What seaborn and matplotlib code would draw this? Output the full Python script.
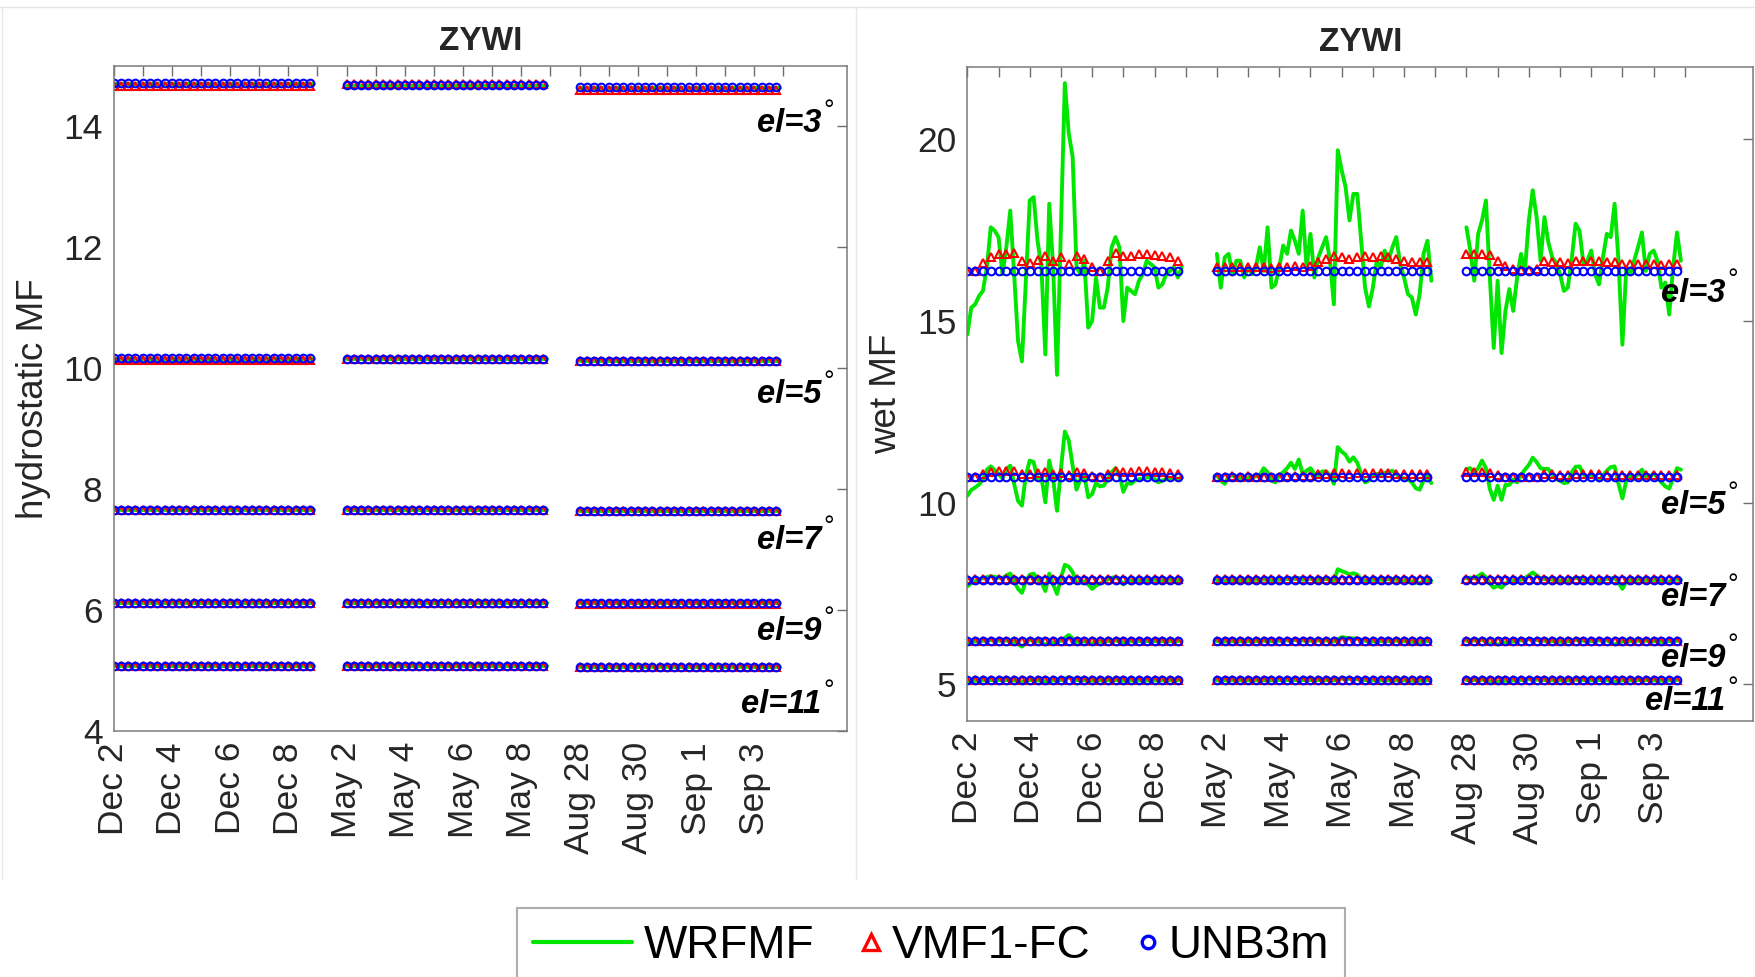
import numpy as np
import pandas as pd
import matplotlib
matplotlib.use("Agg")
import matplotlib.pyplot as plt
import matplotlib.transforms as mtransforms
from matplotlib.lines import Line2D
from matplotlib.legend_handler import HandlerLine2D
import seaborn as sns

# ---------------- data ----------------
# x axis = day index, the three campaigns are put one after another
campaigns = ["Dec", "May", "Aug"]
campaign_start = [0, 8, 16]          # Dec 2, May 2, Aug 28
tick_pos = [0, 2, 4, 6, 8, 10, 12, 14, 16, 18, 20, 22]
tick_labels = ["Dec 2", "Dec 4", "Dec 6", "Dec 8", "May 2", "May 4", "May 6",
               "May 8", "Aug 28", "Aug 30", "Sep 1", "Sep 3"]
elevations = [3, 5, 7, 9, 11]

# hydrostatic MF, level per campaign (Dec, May, Aug) for el = 3,5,7,9,11
hyd_wrf = [[14.70, 14.67, 14.63], [10.15, 10.15, 10.12], [7.65, 7.66, 7.64],
           [6.12, 6.12, 6.11], [5.07, 5.07, 5.06]]
hyd_vmf = [[14.67, 14.69, 14.60], [10.14, 10.15, 10.11], [7.65, 7.66, 7.63],
           [6.11, 6.12, 6.10], [5.07, 5.07, 5.06]]
hyd_unb = [[14.72, 14.68, 14.64], [10.16, 10.15, 10.12], [7.66, 7.66, 7.64],
           [6.12, 6.12, 6.11], [5.08, 5.07, 5.06]]

# wet MF, WRFMF 3-hourly (el 3,5,7), Dec + May + Aug
wrf_wet_el3 = [
    14.63, 15.37, 15.46, 15.69, 15.83, 16.48, 17.58, 17.49, 17.31, 16.29,
    17.03, 18.04, 16.29, 14.45, 13.89, 16.11, 18.32, 18.41, 17.21, 16.48,
    14.08, 18.23, 16.48, 13.52, 17.58, 21.55, 20.17, 19.52, 16.48, 16.29,
    16.66, 14.82, 15.00, 16.20, 15.37, 15.37, 15.92, 17.03, 17.31, 17.03,
    15.00, 15.92, 15.83, 15.74, 16.11, 16.29, 16.66, 16.57, 16.48, 15.92,
    16.01, 16.29, 16.38, 16.48, 16.20, 16.48,
    16.85, 15.92, 16.75, 16.85, 16.29, 16.66, 16.66, 16.20, 16.48, 16.29,
    16.48, 17.03, 16.38, 17.58, 15.92, 16.01, 16.48, 17.08, 16.85, 17.49,
    17.21, 16.85, 18.04, 16.48, 17.40, 16.20, 16.75, 17.03, 17.31, 16.66,
    15.46, 19.70, 19.15, 18.69, 17.77, 18.50, 18.50, 17.21, 15.92, 15.40,
    15.92, 16.66, 16.48, 16.94, 16.66, 17.03, 17.31, 16.57, 16.20, 15.74,
    15.65, 15.18, 15.74, 16.85, 17.21, 16.11,
    17.58, 16.94, 16.11, 17.40, 17.77, 18.32, 16.20, 14.26, 16.11, 14.12,
    15.28, 15.88, 15.28, 16.20, 16.85, 16.38, 17.77, 18.60, 17.86, 16.66,
    17.86, 17.17, 16.75, 16.61, 16.29, 15.83, 15.92, 16.71, 17.68, 17.49,
    16.57, 16.66, 16.94, 16.29, 16.01, 16.75, 17.40, 17.31, 18.23, 16.66,
    14.35, 16.48, 16.29, 16.66, 17.03, 17.44, 16.38, 16.85, 16.94, 16.66,
    15.92, 16.06, 15.18, 16.48, 17.44, 16.66]
wrf_wet_el5 = [
    10.19, 10.35, 10.42, 10.50, 10.65, 10.91, 11.00, 10.90, 10.79, 10.67,
    10.93, 11.02, 10.52, 10.05, 9.92, 10.75, 11.16, 11.12, 10.65, 10.70,
    10.01, 11.16, 10.65, 9.78, 10.93, 11.96, 11.72, 11.02, 10.36, 10.65,
    10.75, 10.15, 10.24, 10.54, 10.45, 10.47, 10.65, 10.84, 10.95, 10.79,
    10.30, 10.54, 10.52, 10.61, 10.65, 10.65, 10.70, 10.70, 10.65, 10.56,
    10.61, 10.65, 10.67, 10.70, 10.65, 10.70,
    10.75, 10.61, 10.52, 10.73, 10.75, 10.70, 10.67, 10.65, 10.69, 10.70,
    10.73, 10.76, 10.95, 10.84, 10.61, 10.56, 10.76, 10.84, 10.95, 11.10,
    10.93, 11.19, 10.79, 10.88, 10.95, 10.79, 10.75, 10.86, 10.86, 10.76,
    10.52, 11.53, 11.41, 11.32, 11.13, 11.25, 11.10, 10.79, 10.56, 10.61,
    10.76, 10.79, 10.79, 10.82, 10.84, 10.88, 10.79, 10.70, 10.67, 10.64,
    10.56, 10.40, 10.36, 10.61, 10.73, 10.54,
    10.93, 10.95, 10.82, 10.95, 11.16, 10.95, 10.38, 10.08, 10.47, 10.08,
    10.49, 10.49, 10.64, 10.56, 10.76, 10.91, 11.04, 11.24, 11.12, 10.95,
    10.93, 10.93, 10.76, 10.65, 10.61, 10.54, 10.56, 10.84, 10.99, 11.00,
    10.79, 10.67, 10.79, 10.73, 10.61, 10.75, 10.88, 10.98, 11.00, 10.52,
    10.12, 10.61, 10.73, 10.67, 10.79, 10.91, 10.73, 10.70, 10.82, 10.69,
    10.56, 10.45, 10.39, 10.67, 10.95, 10.91]
wrf_wet_el7 = [
    7.70, 7.78, 7.84, 7.89, 7.92, 7.95, 7.98, 7.96, 7.94, 7.92,
    8.00, 8.05, 7.84, 7.63, 7.52, 7.84, 8.02, 8.05, 7.89, 7.81,
    7.57, 8.05, 7.75, 7.49, 7.93, 8.29, 8.24, 8.09, 7.80, 7.80,
    7.84, 7.75, 7.63, 7.72, 7.78, 7.81, 7.89, 7.93, 7.96, 7.89,
    7.75, 7.84, 7.86, 7.87, 7.86, 7.88, 7.87, 7.87, 7.88, 7.86,
    7.87, 7.87, 7.88, 7.87, 7.87, 7.87,
    7.87, 7.86, 7.85, 7.87, 7.87, 7.87, 7.86, 7.87, 7.87, 7.87,
    7.88, 7.87, 7.89, 7.88, 7.86, 7.86, 7.88, 7.89, 7.90, 7.92,
    7.90, 7.93, 7.88, 7.90, 7.91, 7.88, 7.87, 7.90, 7.90, 7.88,
    7.85, 8.17, 8.12, 8.08, 8.03, 8.06, 8.02, 7.90, 7.85, 7.86,
    7.88, 7.88, 7.88, 7.89, 7.89, 7.90, 7.88, 7.87, 7.86, 7.85,
    7.84, 7.80, 7.78, 7.84, 7.87, 7.85,
    7.92, 7.94, 7.92, 7.98, 8.05, 7.95, 7.78, 7.66, 7.72, 7.66,
    7.78, 7.83, 7.86, 7.85, 7.88, 7.93, 8.00, 8.08, 8.00, 7.92,
    7.90, 7.90, 7.88, 7.86, 7.85, 7.84, 7.85, 7.90, 7.93, 7.93,
    7.88, 7.86, 7.88, 7.87, 7.85, 7.88, 7.90, 7.92, 7.93, 7.80,
    7.63, 7.84, 7.87, 7.86, 7.88, 7.90, 7.87, 7.87, 7.88, 7.87,
    7.85, 7.84, 7.83, 7.86, 7.89, 7.88]
# WRFMF 6-hourly (el 9, 11)
wrf_wet_el9 = [
    6.15, 6.18, 6.20, 6.22, 6.20, 6.21, 6.17, 6.04, 6.23, 6.19,
    6.10, 6.15, 6.20, 6.36, 6.17, 6.18, 6.13, 6.17, 6.19, 6.21,
    6.15, 6.19, 6.19, 6.19, 6.19, 6.19, 6.19, 6.19,
    6.19, 6.18, 6.19, 6.19, 6.19, 6.19, 6.20, 6.19, 6.20, 6.21,
    6.22, 6.21, 6.20, 6.21, 6.21, 6.18, 6.30, 6.27, 6.26, 6.20,
    6.18, 6.19, 6.19, 6.20, 6.19, 6.17, 6.16, 6.19,
    6.20, 6.21, 6.23, 6.12, 6.10, 6.15, 6.18, 6.21, 6.24, 6.22,
    6.20, 6.19, 6.17, 6.18, 6.22, 6.20, 6.19, 6.21, 6.21, 6.10,
    6.18, 6.19, 6.20, 6.20, 6.19, 6.17, 6.19, 6.20]
wrf_wet_el11 = [
    5.08, 5.10, 5.11, 5.12, 5.12, 5.12, 5.11, 5.06, 5.12, 5.11,
    5.08, 5.11, 5.12, 5.20, 5.12, 5.11, 5.10, 5.11, 5.11, 5.12,
    5.10, 5.11, 5.11, 5.11, 5.11, 5.11, 5.11, 5.11,
    5.11, 5.11, 5.11, 5.11, 5.11, 5.11, 5.11, 5.11, 5.12, 5.12,
    5.12, 5.12, 5.12, 5.12, 5.12, 5.11, 5.16, 5.15, 5.14, 5.12,
    5.11, 5.11, 5.11, 5.11, 5.11, 5.10, 5.10, 5.11,
    5.12, 5.12, 5.13, 5.08, 5.07, 5.10, 5.11, 5.12, 5.14, 5.13,
    5.12, 5.11, 5.11, 5.11, 5.13, 5.12, 5.11, 5.12, 5.12, 5.07,
    5.11, 5.11, 5.12, 5.12, 5.11, 5.10, 5.11, 5.12]

# VMF1-FC wet, 6-hourly
vmf_wet_el3 = [
    16.38, 16.38, 16.61, 16.75, 16.85, 16.85, 16.86, 16.66, 16.61, 16.68,
    16.80, 16.66, 16.75, 16.57, 16.80, 16.71, 16.48, 16.38, 16.66, 16.86,
    16.80, 16.80, 16.85, 16.85, 16.82, 16.80, 16.75, 16.66,
    16.48, 16.48, 16.50, 16.48, 16.50, 16.48, 16.48, 16.45, 16.48, 16.50,
    16.52, 16.50, 16.52, 16.62, 16.70, 16.78, 16.75, 16.72, 16.75, 16.78,
    16.76, 16.78, 16.75, 16.72, 16.65, 16.62, 16.62, 16.62,
    16.85, 16.85, 16.85, 16.82, 16.66, 16.52, 16.42, 16.40, 16.40, 16.42,
    16.66, 16.62, 16.62, 16.60, 16.64, 16.66, 16.66, 16.64, 16.62, 16.62,
    16.58, 16.57, 16.57, 16.58, 16.57, 16.55, 16.57, 16.57]
vmf_wet_el5 = [
    10.70, 10.70, 10.80, 10.84, 10.86, 10.86, 10.86, 10.80, 10.80, 10.82,
    10.84, 10.80, 10.82, 10.76, 10.84, 10.82, 10.74, 10.70, 10.80, 10.86,
    10.84, 10.84, 10.86, 10.86, 10.85, 10.84, 10.83, 10.80,
    10.72, 10.72, 10.73, 10.72, 10.73, 10.72, 10.72, 10.71, 10.72, 10.73,
    10.73, 10.73, 10.74, 10.78, 10.80, 10.82, 10.82, 10.80, 10.82, 10.83,
    10.82, 10.82, 10.82, 10.80, 10.78, 10.78, 10.78, 10.78,
    10.85, 10.85, 10.85, 10.82, 10.76, 10.72, 10.70, 10.70, 10.70, 10.72,
    10.78, 10.78, 10.77, 10.76, 10.78, 10.78, 10.78, 10.78, 10.77, 10.77,
    10.76, 10.76, 10.76, 10.76, 10.76, 10.75, 10.76, 10.76]
vmf_wet_level = {7: [7.89, 7.89, 7.89], 9: [6.20, 6.20, 6.20], 11: [5.11, 5.11, 5.11]}
# UNB3m wet, one value per elevation (same in all campaigns)
unb_wet = [16.38, 10.70, 7.87, 6.19, 5.11]

GREEN, RED, BLUE = "#00e600", "#ff0000", "#0000ff"


def frame(values, model, el, per_day):
    values = np.asarray(values, dtype=float)
    n = len(values) // 3
    assert n * 3 == len(values), (model, el, len(values))
    t = np.arange(n) / per_day
    pos = np.concatenate([s + t for s in campaign_start])
    return pd.DataFrame({"pos": pos, "value": values,
                         "campaign": np.repeat(campaigns, n),
                         "model": model, "el": el})


def levels(lv, n):
    return np.repeat(lv, n)


hyd = []
wet = []
for i, el in enumerate(elevations):
    hyd.append(frame(levels(hyd_wrf[i], 56), "WRFMF", el, 8))
    hyd.append(frame(levels(hyd_vmf[i], 28), "VMF1-FC", el, 4))
    hyd.append(frame(levels(hyd_unb[i], 28), "UNB3m", el, 4))
    wet.append(frame(levels([unb_wet[i]] * 3, 28), "UNB3m", el, 4))
wet += [frame(wrf_wet_el3, "WRFMF", 3, 8), frame(wrf_wet_el5, "WRFMF", 5, 8),
        frame(wrf_wet_el7, "WRFMF", 7, 8), frame(wrf_wet_el9, "WRFMF", 9, 4),
        frame(wrf_wet_el11, "WRFMF", 11, 4),
        frame(vmf_wet_el3, "VMF1-FC", 3, 4), frame(vmf_wet_el5, "VMF1-FC", 5, 4)]
for el, lv in vmf_wet_level.items():
    wet.append(frame(levels(lv, 28), "VMF1-FC", el, 4))
hyd = pd.concat(hyd, ignore_index=True)
wet = pd.concat(wet, ignore_index=True)

# ---------------- plot ----------------
sns.set_theme(style="white")
plt.rcParams["font.family"] = ["Liberation Sans", "DejaVu Sans"]

fig = plt.figure(figsize=(17.55, 9.77), dpi=100)
ax1 = fig.add_axes([0.0647, 0.2518, 0.4182, 0.681])
ax2 = fig.add_axes([0.5512, 0.2623, 0.4479, 0.6694])

MS, MEW = 5.5, 1.5


def draw(ax, df):
    for el in elevations:
        d = df[df.el == el]
        sns.lineplot(data=d[d.model == "WRFMF"], x="pos", y="value", units="campaign",
                     estimator=None, color=GREEN, lw=2.8, ax=ax, legend=False)
        sns.lineplot(data=d[d.model == "VMF1-FC"], x="pos", y="value", units="campaign",
                     estimator=None, ls="none", marker="^", ms=MS, mew=MEW,
                     markerfacecolor="none", markeredgecolor=RED, color=RED,
                     ax=ax, legend=False)
        sns.lineplot(data=d[d.model == "UNB3m"], x="pos", y="value", units="campaign",
                     estimator=None, ls="none", marker="o", ms=MS, mew=MEW,
                     markerfacecolor="none", markeredgecolor=BLUE, color=BLUE,
                     ax=ax, legend=False)


draw(ax1, hyd)
draw(ax2, wet)

ax1.set_ylim(4, 15)
ax1.set_yticks([4, 6, 8, 10, 12, 14])
ax2.set_ylim(4, 22)
ax2.set_yticks([5, 10, 15, 20])
ax1.set_ylabel("hydrostatic MF", fontsize=26.5, labelpad=9)
ax2.set_ylabel("wet MF", fontsize=26.5, labelpad=9)

for ax in (ax1, ax2):
    ax.set_xlim(0, 25.2)
    ax.set_xticks(tick_pos)
    ax.set_xticklabels(tick_labels, rotation=90)
    ax.set_xticks([p + 1 for p in tick_pos], minor=True)
    ax.set_xlabel("")
    ax.set_title("ZYWI", fontsize=24, fontweight="bold", pad=11)
    ax.tick_params(which="both", direction="in", top=True, right=True,
                   length=7, width=1, color="#6e6e6e", labelsize=25.5,
                   labelcolor="#262626", pad=8)
    for s in ax.spines.values():
        s.set_color("#7a7a7a")
        s.set_linewidth(1.1)

# elevation labels
hyd_lab_y = [14.04, 9.56, 7.15, 5.65, 4.44]
wet_lab_y = [15.77, 9.92, 7.38, 5.72, 4.53]
for ax, ys in ((ax1, hyd_lab_y), (ax2, wet_lab_y)):
    deg = mtransforms.offset_copy(ax.transData, fig=fig, x=2, y=13, units="dots")
    for el, y in zip(elevations, ys):
        ax.text(24.3, y, f"el={el}", ha="right", va="center", fontsize=23.5,
                fontweight="bold", fontstyle="italic", color="black", clip_on=False)
        ax.text(24.3, y, "\u00b0", transform=deg, ha="left", va="center",
                fontsize=19, color="black", clip_on=False)

# faint separators of the original sub-figures
for xs, ys in (([0.0, 1.0], [0.993, 0.993]), ([0.4878, 0.4878], [0.993, 0.10]),
               ([0.001, 0.001], [0.993, 0.10])):
    fig.add_artist(Line2D(xs, ys, transform=fig.transFigure, color="#e6e6e6", lw=1))


class RightMarker(HandlerLine2D):
    def create_artists(self, legend, orig_handle, xdescent, ydescent, width,
                       height, fontsize, trans):
        arts = super().create_artists(legend, orig_handle, xdescent, ydescent,
                                      width, height, fontsize, trans)
        x = width - xdescent - 0.2 * fontsize
        for a in arts:
            a.set_xdata(np.full(len(a.get_xdata()), x))
        return arts


h_wrf = Line2D([], [], color=GREEN, lw=3)
h_vmf = Line2D([], [], ls="none", marker="^", ms=11, mew=2.4,
               markerfacecolor="none", markeredgecolor=RED)
h_unb = Line2D([], [], ls="none", marker="o", ms=9, mew=2.4,
               markerfacecolor="none", markeredgecolor=BLUE)
leg = fig.legend([h_wrf, h_vmf, h_unb], ["WRFMF", "VMF1-FC", "UNB3m"],
                 loc="upper center", bbox_to_anchor=(0.5305, 1 - 908 / 977),
                 ncol=3, fontsize=33, frameon=True, fancybox=False,
                 edgecolor="#9a9a9a", handlelength=2.15, handletextpad=0.25,
                 columnspacing=-0.7, borderpad=0.35, borderaxespad=0,
                 handler_map={h_vmf: RightMarker(numpoints=1),
                              h_unb: RightMarker(numpoints=1)})
leg.get_frame().set_linewidth(1.5)
for t in leg.get_texts():
    t.set_color("black")

fig.savefig("out.png", dpi=100, facecolor="white")
